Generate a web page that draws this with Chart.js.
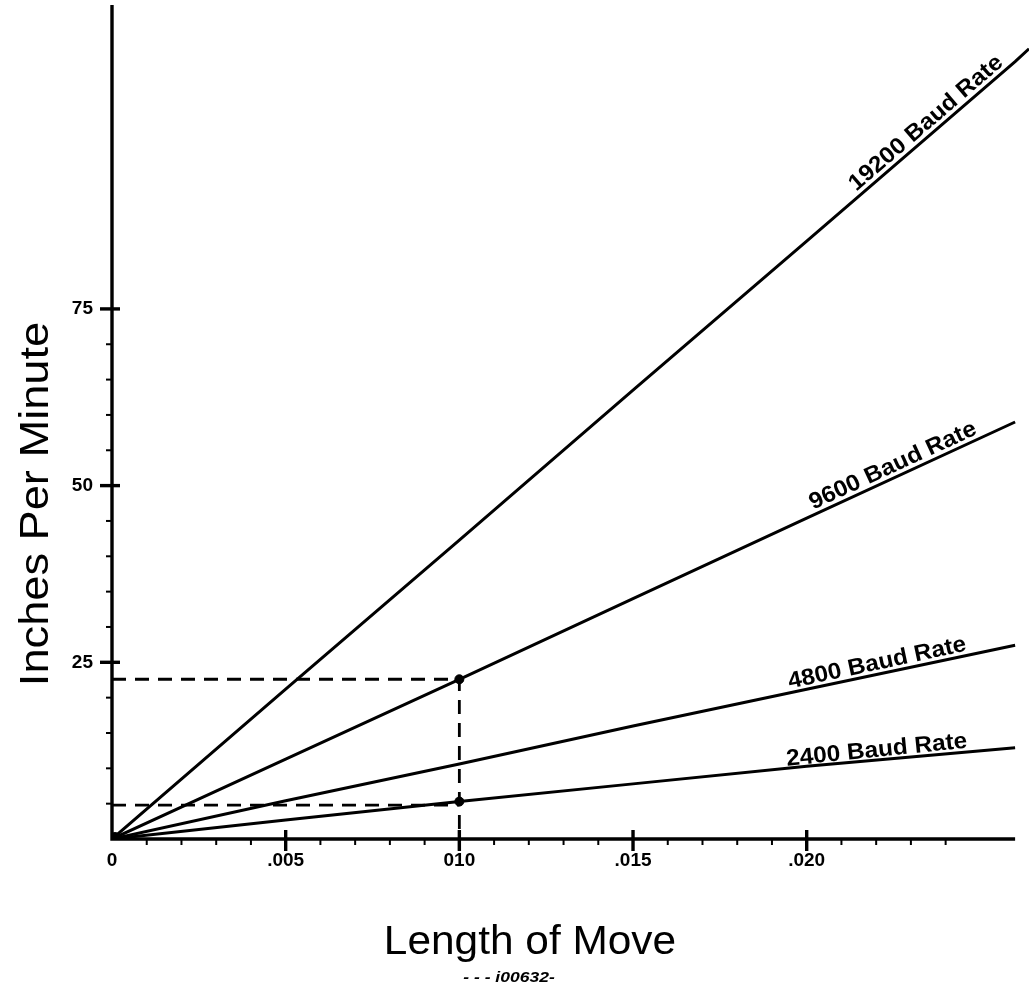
<!DOCTYPE html>
<html lang="en">
<head>
    <meta charset="utf-8" />
    <title>Inches Per Minute vs Length of Move</title>
    <script src="https://cdn.jsdelivr.net/npm/chart.js"></script>
    <style>
        html, body { margin: 0; padding: 0; background: #fff; }
        #wrap { width: 1029px; height: 992px; position: relative; }
    </style>
</head>
<body>
    <div id="wrap"><canvas id="chart"></canvas></div>

    <script>
        // valores (null = a reta acaba antes)
        const moveLengths = [0, 0.005, 0.010, 0.015, 0.020, 0.026, 0.0264];
        const ipm19200 = [0, 21.2, 42.3, 63.5, 84.6, 110.0, 111.8];
        const ipm9600 = [0, 11.3, 22.6, 34.0, 45.4, 59.0, null];
        const ipm4800 = [0, 5.4, 10.6, 16.0, 21.2, 27.4, null];
        const ipm2400 = [0, 2.7, 5.3, 7.8, 10.3, 12.9, null];
        const seriesNames = ['19200 Baud Rate', '9600 Baud Rate', '4800 Baud Rate', '2400 Baud Rate'];

        const xTickValues = [0, 0.005, 0.010, 0.015, 0.020];
        const xTickLabels = ['0', '.005', '010', '.015', '.020'];
        const yTickValues = [25, 50, 75];
        const yTickLabels = ['25', '50', '75'];

        // linhas tracejadas de referencia
        const refX = 0.010;
        const refHigh = 22.6;
        const refLow = 4.8;
        const refDots = [22.6, 5.3];

        const toPoints = (ys) => ys.map((y, i) => ({ x: moveLengths[i], y: y }));

        const solid = (label, ys) => ({
            label: label,
            data: toPoints(ys),
            borderColor: '#000',
            borderWidth: 3,
            pointRadius: 0,
            tension: 0,
            fill: false,
            spanGaps: false
        });

        // desenha texto esticado na horizontal (fonte do original e larga)
        function stretchedText(ctx, text, x, y, angle, font, sx, align, baseline) {
            ctx.save();
            ctx.translate(x, y);
            ctx.rotate(angle);
            ctx.scale(sx, 1);
            ctx.font = font;
            ctx.fillStyle = '#000';
            ctx.textAlign = align || 'center';
            ctx.textBaseline = baseline || 'alphabetic';
            ctx.fillText(text, 0, 0);
            ctx.restore();
        }

        const axesPlugin = {
            id: 'axesPlugin',
            afterDatasetsDraw(chart) {
                const ctx = chart.ctx;
                const xs = chart.scales.x;
                const ys = chart.scales.y;
                const x0 = xs.getPixelForValue(0);
                const y0 = ys.getPixelForValue(0);

                ctx.save();
                ctx.strokeStyle = '#000';
                ctx.lineCap = 'butt';

                // eixos
                ctx.lineWidth = 3.4;
                ctx.beginPath();
                ctx.moveTo(x0, chart.chartArea.top);
                ctx.lineTo(x0, y0);
                ctx.lineTo(xs.getPixelForValue(0.026), y0);
                ctx.stroke();

                // ticks menores
                ctx.lineWidth = 2;
                for (let v = 5; v < 75; v += 5) {
                    if (v % 25 === 0) continue;
                    const py = ys.getPixelForValue(v);
                    ctx.beginPath();
                    ctx.moveTo(x0 - 6, py);
                    ctx.lineTo(x0, py);
                    ctx.stroke();
                }
                for (let i = 1; i <= 25; i++) {
                    if (i % 5 === 0) continue;
                    const px = xs.getPixelForValue(i * 0.001);
                    ctx.beginPath();
                    ctx.moveTo(px, y0);
                    ctx.lineTo(px, y0 + 6);
                    ctx.stroke();
                }

                // ticks maiores (cruzam o eixo)
                ctx.lineWidth = 3.4;
                yTickValues.forEach(v => {
                    const py = ys.getPixelForValue(v);
                    ctx.beginPath();
                    ctx.moveTo(x0 - 12, py);
                    ctx.lineTo(x0 + 8, py);
                    ctx.stroke();
                });
                xTickValues.slice(1).forEach(v => {
                    const px = xs.getPixelForValue(v);
                    ctx.beginPath();
                    ctx.moveTo(px, y0 - 9);
                    ctx.lineTo(px, y0 + 12);
                    ctx.stroke();
                });
                // mancha na origem
                ctx.fillStyle = '#000';
                ctx.beginPath();
                ctx.arc(x0 + 3, y0 - 3, 4, 0, Math.PI * 2);
                ctx.fill();
                ctx.restore();

                // rotulos das retas
                const labelAt = [0.02365, 0.02262, 0.02210, 0.02205];
                const all = [ipm19200, ipm9600, ipm4800, ipm2400];
                const n = 5;
                all.forEach((ys2, k) => {
                    const pxA = xs.getPixelForValue(moveLengths[0]);
                    const pyA = ys.getPixelForValue(ys2[0]);
                    const pxB = xs.getPixelForValue(moveLengths[n]);
                    const pyB = ys.getPixelForValue(ys2[n]);
                    const ang = Math.atan2(pyB - pyA, pxB - pxA);
                    const t = labelAt[k] / moveLengths[n];
                    const lx = pxA + (pxB - pxA) * t;
                    const ly = pyA + (pyB - pyA) * t;
                    const off = 5;
                    const ox = lx + Math.sin(ang) * off;
                    const oy = ly - Math.cos(ang) * off;
                    stretchedText(ctx, seriesNames[k], ox, oy, ang, 'bold 23px "Liberation Sans", Arial, sans-serif', 1.06);
                });

                // titulos
                stretchedText(ctx, 'Inches Per Minute', 48, 504, -Math.PI / 2, '40px "Liberation Sans", Arial, sans-serif', 1.13);
                stretchedText(ctx, 'Length of Move', 530, 954, 0, '40px "Liberation Sans", Arial, sans-serif', 1.06);
                stretchedText(ctx, '- - - i00632-', 509, 982, 0, 'italic bold 14px "Liberation Sans", Arial, sans-serif', 1.25);
            }
        };

        const ctx = document.getElementById('chart').getContext('2d');
        new Chart(ctx, {
            type: 'line',
            data: {
                datasets: [
                    solid(seriesNames[0], ipm19200),
                    solid(seriesNames[1], ipm9600),
                    solid(seriesNames[2], ipm4800),
                    solid(seriesNames[3], ipm2400),
                    {
                        label: 'ref high',
                        data: [{ x: 0, y: refHigh }, { x: refX, y: refHigh }, { x: refX, y: -1.6 }],
                        borderColor: '#000',
                        borderWidth: 2.8,
                        borderDash: [14, 9],
                        pointRadius: 0,
                        clip: false
                    },
                    {
                        label: 'ref low',
                        data: [{ x: 0, y: refLow }, { x: refX, y: refLow }],
                        borderColor: '#000',
                        borderWidth: 2.8,
                        borderDash: [14, 9],
                        pointRadius: 0
                    },
                    {
                        type: 'scatter',
                        label: 'pontos',
                        data: refDots.map(v => ({ x: refX, y: v })),
                        backgroundColor: '#000',
                        borderColor: '#000',
                        pointRadius: 4.5
                    }
                ]
            },
            options: {
                responsive: true,
                maintainAspectRatio: false,
                animation: false,
                layout: { autoPadding: false, padding: { top: 5, right: 0, left: 0, bottom: 0 } },
                plugins: {
                    legend: { display: false },
                    tooltip: { enabled: false }
                },
                scales: {
                    x: {
                        type: 'linear',
                        min: 0,
                        max: 0.0264,
                        grid: { display: false },
                        border: { display: false },
                        afterBuildTicks: (s) => { s.ticks = xTickValues.map(v => ({ value: v })); },
                        afterFit: (s) => {
                            s.height = 153;
                            s.paddingLeft = 0;
                            s.paddingRight = 0;
                        },
                        ticks: {
                            autoSkip: false,
                            maxRotation: 0,
                            padding: 2,
                            color: '#000',
                            font: { family: '"Liberation Sans", Arial, sans-serif', size: 19, weight: 'bold' },
                            callback: (v) => {
                                const i = xTickValues.findIndex(t => Math.abs(t - v) < 1e-9);
                                return i >= 0 ? xTickLabels[i] : '';
                            }
                        }
                    },
                    y: {
                        type: 'linear',
                        min: 0,
                        max: 118,
                        grid: { display: false },
                        border: { display: false },
                        afterBuildTicks: (s) => { s.ticks = yTickValues.map(v => ({ value: v })); },
                        afterFit: (s) => {
                            s.width = 112;
                            s.paddingTop = 0;
                            s.paddingBottom = 0;
                        },
                        ticks: {
                            padding: 11,
                            color: '#000',
                            font: { family: '"Liberation Sans", Arial, sans-serif', size: 19, weight: 'bold' },
                            callback: (v) => {
                                const i = yTickValues.indexOf(v);
                                return i >= 0 ? yTickLabels[i] : '';
                            }
                        }
                    }
                }
            },
            plugins: [axesPlugin]
        });
    </script>
</body>
</html>
